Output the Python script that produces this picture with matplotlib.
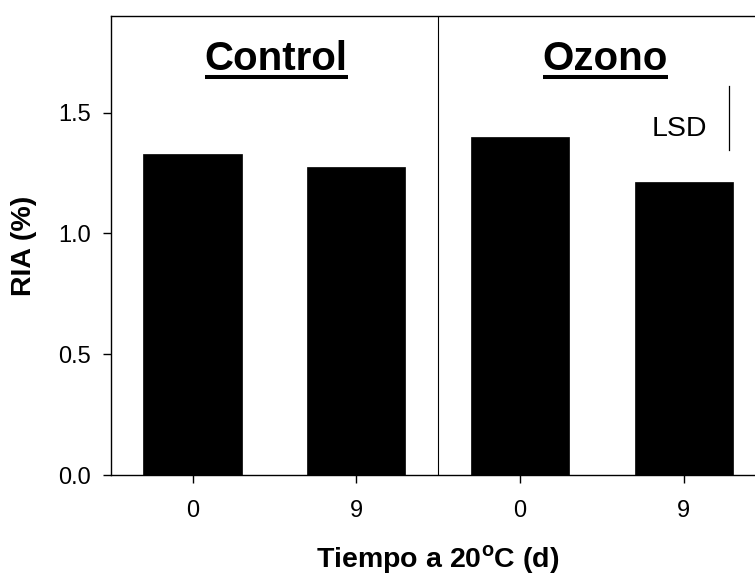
import numpy as np
import matplotlib
matplotlib.use("Agg")
import matplotlib.pyplot as plt
from matplotlib.lines import Line2D

plt.rcParams['font.family'] = ['Liberation Sans', 'DejaVu Sans']
plt.rcParams['mathtext.fontset'] = 'custom'
plt.rcParams['mathtext.rm'] = 'Liberation Sans'
plt.rcParams['mathtext.bf'] = 'Liberation Sans:bold'

# data
groups = ["Control", "Ozono"]
days = ["0", "9", "0", "9"]
ria = [1.33, 1.273, 1.401, 1.211]
lsd_low = 1.347
lsd_high = 1.612

fig = plt.figure(figsize=(7.55, 5.74), dpi=100)
# axes runs a little past the right edge, as in the original (cropped)
ax = fig.add_axes([110.7 / 755, (574 - 475) / 574, 655 / 755, 459 / 574])

x = np.arange(len(ria))
ax.bar(x, ria, width=0.6, color='black', edgecolor='black', linewidth=0.5)

ax.set_xlim(-0.5, 3.5)
ax.set_ylim(0, 1.9)
ax.set_xticks(x)
ax.set_xticklabels(days)
ax.set_yticks([0.0, 0.5, 1.0, 1.5])
ax.set_yticklabels(["0.0", "0.5", "1.0", "1.5"])

for s in ['left', 'bottom', 'top']:
    ax.spines[s].set_linewidth(1.0)
ax.spines['right'].set_visible(False)
ax.tick_params(axis='both', direction='out', length=6, width=1, labelsize=17)
ax.tick_params(axis='y', pad=8)
ax.tick_params(axis='x', pad=12)

# divider between treatments
ax.axvline(1.5, color='black', linewidth=0.8)

ax.set_ylabel("RIA (%)", fontsize=20.5, fontweight='bold')
ax.yaxis.set_label_coords(-0.112, 0.5)
ax.set_xlabel(r"Tiempo a 20$^{\mathbf{o}}$C (d)", fontsize=20.5, fontweight='bold', labelpad=15)

# group titles, underlined
titles = []
for gx, name in zip([0.51, 2.52], groups):
    t = ax.text(gx, 1.678, name, fontsize=29, fontweight='bold', ha='center', va='baseline')
    titles.append((t, gx))

# LSD bar
ax.plot([3.277, 3.277], [lsd_low, lsd_high], color='black', linewidth=0.9)
ax.text(3.142, 1.405, "LSD", fontsize=20.5, ha='right', va='baseline')

fig.canvas.draw()
for t, gx in titles:
    bb = t.get_window_extent()
    _, yb = ax.transData.transform((gx, 1.678))
    fig.add_artist(Line2D([bb.x0, bb.x1], [yb - 7, yb - 7], transform=None,
                          color='black', linewidth=2.9, solid_capstyle='butt'))

fig.savefig("out.png", dpi=100)
